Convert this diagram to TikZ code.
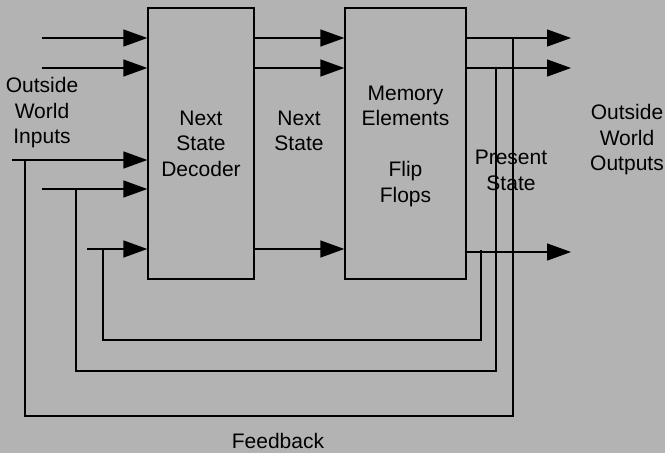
\documentclass[tikz,border=0pt]{standalone}
\usepackage{fontspec}
\setmainfont{Liberation Sans}
\usetikzlibrary{arrows.meta}
\definecolor{bggray}{RGB}{179,179,179}
\begin{document}
\begin{tikzpicture}[x=1pt,y=-1pt,
  wire/.style={line width=1.3pt},
  arr/.style={wire,-{Triangle[length=24pt,width=17pt]}},
  block/.style={draw,line width=1.3pt,minimum width=#1,minimum height=271pt,inner sep=0pt},
  lbl/.style={font=\fontsize{21}{25.5}\selectfont,align=center,inner sep=0pt}]
% canvas
\fill[bggray] (0,0) rectangle (665,453);
\useasboundingbox (0,0) rectangle (665,453);

% the two blocks
\node[block=106pt] (dec) at (201,143.5) {};
\node[block=121pt] (mem) at (405.5,143.5) {};

% labels
\node[lbl] (decl) at (201,143.5) {Next\\State\\Decoder};
\node[lbl] (meml) at (405.5,146) {Memory\\Elements\\[25.5pt]Flip\\Flops};
\node[lbl] (inl) at (42,113) {Outside\\World\\Inputs};
\node[lbl] (nsl) at (299,131) {Next\\State};
\node[lbl] (psl) at (511,170.5) {Present\\State};
\node[lbl] (outl) at (627,140) {Outside\\World\\Outputs};
\node[lbl] (fbl) at (278,441) {Feedback};

% inputs to the decoder
\coordinate (i1) at (42,38);
\coordinate (i2) at (42,68);
\coordinate (i3) at (12,160);
\coordinate (i4) at (42,189);
\coordinate (i5) at (87,249);
\foreach \c in {i1,i2,i3,i4,i5}
  \draw[arr] (\c) -- (dec.west |- \c);

% next state lines
\coordinate (n1) at (254,38);
\coordinate (n2) at (254,68);
\coordinate (n3) at (254,249);
\foreach \c in {n1,n2,n3}
  \draw[arr] (dec.east |- \c) -- (mem.west |- \c);

% outputs
\coordinate (o1) at (571,38);
\coordinate (o2) at (571,68);
\coordinate (o3) at (571,252);
\draw[arr] (mem.east |- o1) -- (o1);
\draw[arr] (mem.east |- o2) -- (o2);
\draw[arr] ([xshift=-2pt]mem.east |- o3) -- (o3);

% feedback paths
\coordinate (t1) at (513,38);
\coordinate (t2) at (496,68);
\coordinate (t3) at (481,250);
\coordinate (j1) at (25,160);
\coordinate (j2) at (76,189);
\coordinate (j3) at (103,249);
\draw[wire] (t1) -- (513,416) -- (25,416) -- (j1);
\draw[wire] (t2) -- (496,371) -- (76,371) -- (j2);
\draw[wire] (t3) -- (481,340) -- (103,340) -- (j3);
\end{tikzpicture}
\end{document}
